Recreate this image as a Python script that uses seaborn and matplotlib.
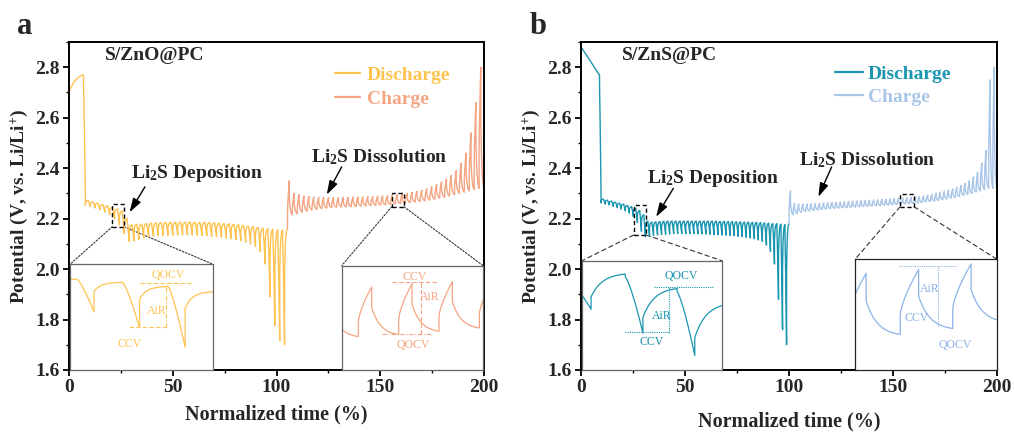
import numpy as np
import pandas as pd
import matplotlib
matplotlib.use("Agg")
import matplotlib.pyplot as plt
import seaborn as sns
from matplotlib.patches import Rectangle, ConnectionPatch
from matplotlib.lines import Line2D
from matplotlib.ticker import MultipleLocator

# ---------------- data ----------------
# Panel a : S/ZnO@PC
ocv_a_time = [0, 1, 2, 3, 4, 5, 6, 6.9]
ocv_a_volt = [2.700, 2.722, 2.737, 2.748, 2.756, 2.762, 2.767, 2.770]
dis_a_window = [7.0, 105.3]
dis_a_ccv = [2.253, 2.248, 2.242, 2.235, 2.226, 2.215, 2.200, 2.175, 2.140, 2.110,
             2.112, 2.118, 2.123, 2.127, 2.130, 2.132, 2.133, 2.134, 2.134, 2.135,
             2.135, 2.135, 2.135, 2.134, 2.133, 2.132, 2.130, 2.128, 2.126, 2.123,
             2.120, 2.117, 2.113, 2.108, 2.100, 2.090, 2.070, 2.020, 1.890, 1.775,
             1.715, 1.700]
dis_a_qocv = [2.272, 2.266, 2.261, 2.255, 2.250, 2.244, 2.238, 2.230, 2.200, 2.175,
              2.177, 2.178, 2.180, 2.182, 2.183, 2.184, 2.185, 2.185, 2.186, 2.186,
              2.186, 2.186, 2.186, 2.185, 2.185, 2.184, 2.183, 2.182, 2.180, 2.179,
              2.177, 2.175, 2.173, 2.170, 2.168, 2.165, 2.162, 2.160, 2.158, 2.156,
              2.155, 2.160]
chg_a_window = [105.3, 200.0]
chg_a_ccv = [2.350, 2.300, 2.295, 2.290, 2.288, 2.286, 2.285, 2.284, 2.283, 2.283,
             2.283, 2.284, 2.284, 2.285, 2.285, 2.286, 2.287, 2.288, 2.289, 2.290,
             2.291, 2.293, 2.295, 2.297, 2.300, 2.304, 2.308, 2.313, 2.319, 2.326,
             2.335, 2.345, 2.357, 2.372, 2.390, 2.420, 2.460, 2.540, 2.660, 2.800]
chg_a_qocv = [2.215, 2.220, 2.226, 2.230, 2.234, 2.237, 2.240, 2.242, 2.244, 2.245,
              2.246, 2.247, 2.248, 2.249, 2.250, 2.251, 2.252, 2.253, 2.254, 2.255,
              2.256, 2.258, 2.260, 2.262, 2.264, 2.266, 2.268, 2.271, 2.274, 2.277,
              2.281, 2.285, 2.290, 2.295, 2.300, 2.305, 2.310, 2.315, 2.320, 2.320]

# Panel b : S/ZnS@PC
ocv_b_time = [0, 2, 4, 6, 8, 8.8]
ocv_b_volt = [2.880, 2.856, 2.831, 2.805, 2.780, 2.770]
dis_b_window = [8.9, 100.0]
dis_b_ccv = [2.262, 2.258, 2.254, 2.249, 2.244, 2.238, 2.231, 2.222, 2.208, 2.185,
             2.150, 2.128, 2.130, 2.133, 2.135, 2.137, 2.138, 2.139, 2.140, 2.140,
             2.140, 2.140, 2.140, 2.140, 2.140, 2.139, 2.139, 2.138, 2.137, 2.136,
             2.135, 2.134, 2.133, 2.132, 2.130, 2.128, 2.126, 2.123, 2.120, 2.115,
             2.110, 2.095, 2.070, 2.020, 1.880, 1.760, 1.700]
dis_b_qocv = [2.277, 2.273, 2.269, 2.265, 2.261, 2.257, 2.252, 2.247, 2.241, 2.232,
              2.215, 2.190, 2.186, 2.187, 2.188, 2.189, 2.190, 2.190, 2.190, 2.190,
              2.190, 2.190, 2.190, 2.190, 2.190, 2.190, 2.190, 2.190, 2.190, 2.189,
              2.189, 2.188, 2.188, 2.187, 2.187, 2.186, 2.186, 2.185, 2.185, 2.184,
              2.183, 2.182, 2.180, 2.180, 2.178, 2.176, 2.180]
chg_b_window = [100.0, 200.0]
chg_b_ccv = [2.310, 2.260, 2.258, 2.258, 2.258, 2.259, 2.260, 2.261, 2.262, 2.263,
             2.264, 2.265, 2.266, 2.267, 2.268, 2.269, 2.270, 2.271, 2.272, 2.273,
             2.274, 2.275, 2.276, 2.277, 2.278, 2.279, 2.280, 2.281, 2.282, 2.284,
             2.286, 2.288, 2.290, 2.293, 2.296, 2.300, 2.304, 2.308, 2.313, 2.318,
             2.324, 2.331, 2.340, 2.350, 2.365, 2.385, 2.420, 2.470, 2.750, 2.800]
chg_b_qocv = [2.215, 2.220, 2.225, 2.228, 2.230, 2.232, 2.234, 2.236, 2.238, 2.240,
              2.241, 2.242, 2.243, 2.244, 2.245, 2.246, 2.247, 2.248, 2.249, 2.250,
              2.251, 2.252, 2.253, 2.254, 2.255, 2.256, 2.257, 2.258, 2.259, 2.260,
              2.262, 2.264, 2.266, 2.268, 2.270, 2.272, 2.275, 2.278, 2.281, 2.284,
              2.288, 2.292, 2.296, 2.300, 2.305, 2.310, 2.315, 2.320, 2.320, 2.315]

# Insets (normalised inset units, 0..1)
ins_a_dis_window = [-0.273, 1.007]
ins_a_dis_ccv = [0.70, 0.565, 0.41, 0.221]
ins_a_dis_qocv = [0.883, 0.852, 0.811, 0.76]
ins_a_dis_v0 = 0.95
ins_a_chg_window = [-0.167, 1.258]
ins_a_chg_ccv = [0.80, 0.82, 0.853, 0.872, 0.88]
ins_a_chg_qocv = [0.33, 0.35, 0.383, 0.415, 0.43]
ins_a_chg_v0 = 0.40
ins_b_dis_window = [-0.06, 1.42]
ins_b_dis_ccv = [0.573, 0.35, 0.137, 0.10]
ins_b_dis_qocv = [0.905, 0.768, 0.62, 0.50]
ins_b_dis_v0 = 0.80
ins_b_chg_window = [-0.052, 1.428]
ins_b_chg_ccv = [0.90, 0.934, 0.988, 1.0]
ins_b_chg_qocv = [0.331, 0.386, 0.45, 0.5]
ins_b_chg_v0 = 0.30

steps = ["Discharge", "Charge"]
colors_a = {"Discharge": "#FFC350", "Charge": "#F5A582"}
colors_b = {"Discharge": "#1A96B0", "Charge": "#A9C6E8"}


def gitt_curve(window, ccv, qocv, v0, charge, cur=0.4, ir=0.1, relax=0.6, k=4.0, n=16):
    t_start, t_end = window
    npulse = len(ccv)
    dt = (t_end - t_start) / npulse
    s = np.linspace(0, 1, n)
    p = 0.7 if charge else 1.3
    xs, ys = [np.array([t_start])], [np.array([v0])]
    prev = v0
    w = (1 - np.exp(-k * s)) / (1 - np.exp(-k))
    for i in range(npulse):
        t0 = t_start + i * dt
        a = prev + (ccv[i] - prev) * ir
        xs.append(t0 + s * cur * dt)
        ys.append(a + (ccv[i] - a) * s ** p)
        b = ccv[i] + (qocv[i] - ccv[i]) * relax
        xs.append(t0 + cur * dt + s * (1 - cur) * dt)
        ys.append(b + (qocv[i] - b) * w)
        prev = qocv[i]
    return np.concatenate(xs), np.concatenate(ys)


def panel_frame(ocv_t, ocv_v, dwin, dccv, dqocv, cwin, cccv, cqocv):
    xd, yd = gitt_curve(dwin, dccv, dqocv, ocv_v[-1], False, cur=0.4, ir=0.1, relax=0.6)
    xc, yc = gitt_curve(cwin, cccv, cqocv, dqocv[-1], True, cur=0.35, ir=0.3, relax=0.45, k=3.0)
    xd = np.concatenate([ocv_t, xd])
    yd = np.concatenate([ocv_v, yd])
    return pd.DataFrame({
        "time": np.concatenate([xd, xc]),
        "potential": np.concatenate([yd, yc]),
        "step": ["Discharge"] * len(xd) + ["Charge"] * len(xc),
    })


df_a = panel_frame(ocv_a_time, ocv_a_volt, dis_a_window, dis_a_ccv, dis_a_qocv,
                   chg_a_window, chg_a_ccv, chg_a_qocv)
df_b = panel_frame(ocv_b_time, ocv_b_volt, dis_b_window, dis_b_ccv, dis_b_qocv,
                   chg_b_window, chg_b_ccv, chg_b_qocv)

# ---------------- style ----------------
sns.set_theme(style="ticks")
plt.rcParams["font.family"] = ["Liberation Serif", "DejaVu Serif"]
plt.rcParams["font.weight"] = "bold"
plt.rcParams["axes.labelweight"] = "bold"
plt.rcParams["mathtext.default"] = "regular"
plt.rcParams["axes.linewidth"] = 1.4

fig = plt.figure(figsize=(10.14, 4.37), dpi=100)
W, H = 1014, 437
ax_a = fig.add_axes([69 / W, 67 / H, 415 / W, 328 / H])
ax_b = fig.add_axes([581 / W, 67 / H, 416 / W, 328 / H])


def style_axes(ax, xlabelpad):
    ax.set_xlim(0, 200)
    ax.set_ylim(1.6, 2.9)
    ax.xaxis.set_major_locator(MultipleLocator(50))
    ax.xaxis.set_minor_locator(MultipleLocator(25))
    ax.yaxis.set_major_locator(MultipleLocator(0.2))
    ax.yaxis.set_minor_locator(MultipleLocator(0.1))
    ax.yaxis.set_major_formatter(matplotlib.ticker.FormatStrFormatter("%.1f"))
    ax.tick_params(which="major", direction="out", length=4.5, width=1.3,
                   labelsize=14, pad=2, color="black")
    ax.tick_params(which="minor", direction="out", length=2.5, width=1.0, color="black")
    for sp in ax.spines.values():
        sp.set_color("black")
        sp.set_linewidth(1.4)
    ax.set_xlabel("Normalized time (%)", fontsize=14.5, fontweight="bold", labelpad=xlabelpad)
    ax.set_ylabel("Potential (V, vs. Li/Li$^{+}$)", fontsize=14, fontweight="bold", labelpad=4)


def draw_panel(ax, df, colors, title, leg_anchor, handlelen, textpad):
    sns.lineplot(data=df, x="time", y="potential", hue="step", hue_order=steps,
                 palette=colors, estimator=None, sort=False, lw=1.0, ax=ax, legend=False)
    ax.text(title[0], title[1], title[2], transform=ax.transAxes, ha="left", va="center",
            fontsize=14, fontweight="bold")
    handles = [Line2D([], [], color=colors[s], lw=1.6) for s in steps]
    leg = ax.legend(handles, steps, loc="upper left", bbox_to_anchor=leg_anchor,
                    frameon=False, borderpad=0, borderaxespad=0, handlelength=handlelen,
                    handletextpad=textpad, labelspacing=0.3,
                    prop={"size": 14, "weight": "bold"})
    for t, s in zip(leg.get_texts(), steps):
        t.set_color(colors[s])


def make_inset(ax, bounds, window, ccv, qocv, v0, charge, color, frame_color, **kw):
    ins = ax.inset_axes(bounds)
    x, y = gitt_curve(window, ccv, qocv, v0, charge, **kw)
    sns.lineplot(x=x, y=y, estimator=None, sort=False, color=color, lw=0.9, ax=ins)
    ins.set_xlim(0, 1)
    ins.set_ylim(0, 1.03)
    ins.set_xticks([])
    ins.set_yticks([])
    ins.set_xlabel("")
    ins.set_ylabel("")
    ins.set_facecolor("white")
    for sp in ins.spines.values():
        sp.set_color(frame_color)
        sp.set_linewidth(0.9)
    return ins


def inset_labels(ins, color, items, lines):
    for (x, y, s) in items:
        ins.text(x, y, s, color=color, fontsize=8.5, fontweight="normal",
                 ha="center", va="center", transform=ins.transAxes)
    for (xs, ys, ls) in lines:
        ins.plot(xs, ys, color=color, lw=0.8, ls=ls, transform=ins.transAxes)


def zoom_box(ax, ins, x0, x1, y0, y1, ls):
    ax.add_patch(Rectangle((x0, y0), x1 - x0, y1 - y0, fill=False, ec="black",
                           lw=1.0, ls=(0, (3, 2)), zorder=6))
    for xa, xb in ((x0, 0), (x1, 1)):
        con = ConnectionPatch(xyA=(xa, y0), coordsA=ax.transData, xyB=(xb, 1),
                              coordsB=ins.transAxes, color="#333333", lw=0.8, ls=ls)
        ax.add_artist(con)


def arrow_label(ax, text, txy, tail, tip):
    ax.text(txy[0], txy[1], text, ha="center", va="center", fontsize=14, fontweight="bold")
    ax.annotate("", xy=tip, xytext=tail,
                arrowprops=dict(arrowstyle="-|>,head_length=0.7,head_width=0.22",
                                color="black", lw=1.0, shrinkA=0, shrinkB=0))


# ---------------- panel a ----------------
style_axes(ax_a, 6)
draw_panel(ax_a, df_a, colors_a, (0.087, 0.96, "S/ZnO@PC"), (0.641, 0.925), 1.3, 0.35)
arrow_label(ax_a, "Li$_2$S Deposition", (61.5, 2.38), (36.6, 2.326), (29.2, 2.225))
arrow_label(ax_a, "Li$_2$S Dissolution", (149.5, 2.445), (131.4, 2.405), (124.2, 2.295))

ia1 = make_inset(ax_a, [0.003, 0.0, 0.343, 0.323], ins_a_dis_window, ins_a_dis_ccv,
                 ins_a_dis_qocv, ins_a_dis_v0, False, colors_a["Discharge"], "#666666",
                 cur=0.375, ir=0.0, relax=0.7, k=4.0, n=40)
inset_labels(ia1, colors_a["Discharge"],
             [(0.69, 0.90, "QOCV"), (0.604, 0.56, "AiR"), (0.42, 0.245, "CCV")],
             [([0.49, 0.87], [0.818, 0.818], (0, (4, 2))),
              ([0.672, 0.672], [0.41, 0.818], (0, (4, 1.5, 1, 1.5))),
              ([0.41, 0.672], [0.41, 0.41], (0, (4, 2)))])
ia2 = make_inset(ax_a, [0.657, 0.0, 0.341, 0.318], ins_a_chg_window, ins_a_chg_ccv,
                 ins_a_chg_qocv, ins_a_chg_v0, True, colors_a["Charge"], "#666666",
                 cur=0.33, ir=0.3, relax=0.43, k=3.0, n=40)
inset_labels(ia2, colors_a["Charge"],
             [(0.518, 0.895, "CCV"), (0.624, 0.70, "AiR"), (0.506, 0.24, "QOCV")],
             [([0.353, 0.682], [0.847, 0.847], (0, (4, 2))),
              ([0.56, 0.56], [0.345, 0.847], (0, (4, 2))),
              ([0.282, 0.635], [0.345, 0.345], (0, (4, 1.5, 1, 1.5)))])
zoom_box(ax_a, ia1, 20.9, 26.5, 2.168, 2.257, (0, (1.5, 1.5)))
zoom_box(ax_a, ia2, 155.5, 161.4, 2.247, 2.300, (0, (1.5, 1.5)))

# ---------------- panel b ----------------
style_axes(ax_b, 11)
draw_panel(ax_b, df_b, colors_b, (0.098, 0.96, "S/ZnS@PC"), (0.61, 0.93), 1.45, 0.26)
arrow_label(ax_b, "Li$_2$S Deposition", (63.3, 2.36), (44.4, 2.32), (36.1, 2.207))
arrow_label(ax_b, "Li$_2$S Dissolution", (137.4, 2.43), (120.5, 2.405), (114.1, 2.286))

ib1 = make_inset(ax_b, [0.002, 0.0, 0.337, 0.333], ins_b_dis_window, ins_b_dis_ccv,
                 ins_b_dis_qocv, ins_b_dis_v0, False, colors_b["Discharge"], "#666666",
                 cur=0.34, ir=0.05, relax=0.35, k=3.0, n=40)
inset_labels(ib1, colors_b["Discharge"],
             [(0.707, 0.86, "QOCV"), (0.571, 0.494, "AiR"), (0.50, 0.26, "CCV")],
             [([0.517, 0.94], [0.762, 0.762], (0, (1, 1))),
              ([0.621, 0.621], [0.341, 0.762], (0, (1, 1))),
              ([0.31, 0.621], [0.348, 0.348], (0, (1, 1)))])
ib2 = make_inset(ax_b, [0.659, 0.0, 0.341, 0.3375], ins_b_chg_window, ins_b_chg_ccv,
                 ins_b_chg_qocv, ins_b_chg_v0, True, "#8DB3E6", "#222222",
                 cur=0.35, ir=0.3, relax=0.45, k=3.0, n=40)
inset_labels(ib2, "#8DB3E6",
             [(0.525, 0.73, "AiR"), (0.43, 0.467, "CCV"), (0.706, 0.226, "QOCV")],
             [([0.306, 0.718], [0.94, 0.94], (0, (1, 1))),
              ([0.584, 0.584], [0.40, 0.94], (0, (1, 1)))])
zoom_box(ax_b, ib1, 25.3, 31.3, 2.135, 2.253, (0, (4, 3)))
zoom_box(ax_b, ib2, 153.4, 160.1, 2.247, 2.297, (0, (4, 3)))

# panel letters
fig.text(25 / W, 1 - 26 / H, "a", fontsize=22, fontweight="bold", ha="center", va="center")
fig.text(538 / W, 1 - 26 / H, "b", fontsize=22, fontweight="bold", ha="center", va="center")

fig.savefig("out.png", dpi=100)
